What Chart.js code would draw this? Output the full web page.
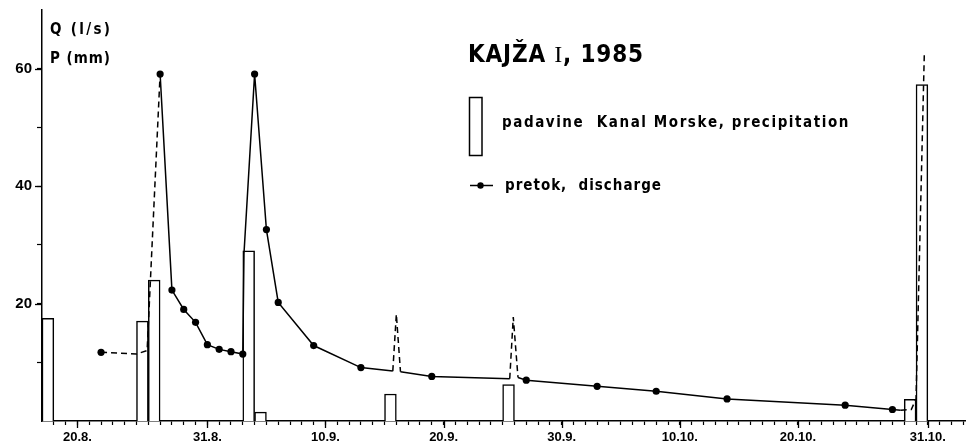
<!DOCTYPE html>
<html><head><meta charset="utf-8">
<script src="https://cdn.jsdelivr.net/npm/chart.js@4.4.0/dist/chart.umd.min.js"></script>
<style>html,body{margin:0;padding:0;background:#fff;} #wrap{width:966px;height:448px;}</style>
</head><body><div id="wrap"><canvas id="c" width="966" height="448"></canvas></div>
<script>
// x values are day numbers counted from 1 August 1985 (1.9. = 32, 1.10. = 62)
const xTickDays = [20, 31, 41, 51, 61, 71, 81, 92];
const xTickLabels = ['20.8.', '31.8.', '10.9.', '20.9.', '30.9.', '10.10.', '20.10.', '31.10.'];
const yTickLabels = [20, 40, 60];

// precipitation (mm), daily bars starting at these days
const precipDays = [17, 25, 26, 34, 35, 46, 56, 90, 91];
const precipValues = [17.5, 17, 24, 29, 1.5, 4.6, 6.2, 3.7, 57.3];

// discharge (l/s) trace vertices
const qDays = [22, 25, 25.9, 27, 28, 29, 30, 31, 32, 33, 34, 34.1, 35, 36, 37, 40, 44, 46.7, 47.0, 47.35, 50, 56.6, 56.9, 57.3, 58, 64, 69, 75, 85, 89, 89.7, 90.6, 91.0, 91.7];
const qValues = [11.7, 11.4, 12.0, 59.1, 22.3, 19.0, 16.8, 13.0, 12.2, 11.8, 11.4, 28.5, 59.1, 32.6, 20.2, 12.85, 9.1, 8.5, 18.2, 8.4, 7.6, 7.2, 17.7, 7.4, 6.95, 5.9, 5.07, 3.76, 2.7, 1.96, 1.84, 1.96, 3.8, 62.5];
const qMeasured = [1, 0, 0, 1, 1, 1, 1, 1, 1, 1, 1, 0, 1, 1, 1, 1, 1, 0, 0, 0, 1, 0, 0, 0, 1, 1, 1, 1, 1, 1, 0, 0, 0, 0];
const qDashedAfter = [1, 1, 1, 0, 0, 0, 0, 0, 0, 0, 0, 0, 0, 0, 0, 0, 0, 1, 1, 0, 0, 1, 1, 0, 0, 0, 0, 0, 0, 0, 1, 1, 1, 0];

const titleText = ['KAJŽA ', 'I', ', 1985'];
const legendPrecip = 'padavine  Kanal Morske, precipitation';
const legendQ = 'pretok,  discharge';
const unitQ = 'Q (l/s)';
const unitP = 'P (mm)';

const allDays = [];
for (let d = 18; d <= 95; d++) allDays.push(d);
const yTicks = [10, 20, 30, 40, 50, 60];

const BOLD_NARROW = '"Liberation Sans Narrow", "DejaVu Sans Condensed", "Liberation Sans", sans-serif';

function fitText(ctx, runs, x, yMid, width) {
  ctx.save();
  ctx.textBaseline = 'middle'; ctx.textAlign = 'left'; ctx.fillStyle = '#000';
  let w = 0, n = 0;
  runs.forEach(r => { ctx.font = r.font; r.w = ctx.measureText(r.t).width; w += r.w; n += [...r.t].length; });
  if (w < width) {
    const ls = (width - w) / Math.max(1, n - 1);
    let cx = x;
    runs.forEach(r => {
      ctx.font = r.font;
      for (const ch of r.t) { ctx.fillText(ch, cx, yMid); cx += ctx.measureText(ch).width + ls; }
    });
  } else {
    ctx.translate(x, yMid); ctx.scale(width / w, 1);
    let cx = 0;
    runs.forEach(r => { ctx.font = r.font; ctx.fillText(r.t, cx, 0); cx += r.w; });
  }
  ctx.restore();
}

const decor = {
  id: 'decor',
  afterDraw(chart) {
    const ctx = chart.ctx;
    const xs = chart.scales.x, ys = chart.scales.y;
    const bottom = chart.chartArea.bottom;
    ctx.save();
    ctx.strokeStyle = '#000'; ctx.lineWidth = 1.3;
    xTickDays.forEach(d => {
      const px = Math.round(xs.getPixelForValue(d)) + 0.5;
      ctx.beginPath(); ctx.moveTo(px, bottom); ctx.lineTo(px, bottom + 7); ctx.stroke();
    });
    yTickLabels.forEach(v => {
      const py = Math.round(ys.getPixelForValue(v)) + 0.5;
      ctx.beginPath(); ctx.moveTo(chart.chartArea.left - 7, py); ctx.lineTo(chart.chartArea.left, py); ctx.stroke();
    });
    ctx.restore();

    fitText(ctx, [{ t: unitQ, font: 'bold 15px ' + BOLD_NARROW }], 50, 30, 60);
    fitText(ctx, [{ t: unitP, font: 'bold 15px ' + BOLD_NARROW }], 50, 59, 60);
    fitText(ctx, [
      { t: titleText[0], font: 'bold 24px ' + BOLD_NARROW },
      { t: titleText[1], font: '24px "Liberation Serif", serif' },
      { t: titleText[2], font: 'bold 24px ' + BOLD_NARROW }
    ], 468, 56, 175);
    ctx.save();
    ctx.strokeStyle = '#000'; ctx.lineWidth = 1.5;
    ctx.strokeRect(469.5, 97.5, 12.5, 58);
    ctx.beginPath(); ctx.moveTo(470, 185.5); ctx.lineTo(493, 185.5); ctx.stroke();
    ctx.beginPath(); ctx.arc(480.5, 185.5, 3.2, 0, Math.PI * 2); ctx.fillStyle = '#000'; ctx.fill();
    ctx.restore();
    fitText(ctx, [{ t: legendPrecip, font: 'bold 15px ' + BOLD_NARROW }], 502, 123, 346);
    fitText(ctx, [{ t: legendQ, font: 'bold 15px ' + BOLD_NARROW }], 505, 186, 156);
  }
};

const qData = qDays.map((d, i) => ({ x: d, y: qValues[i] }));
const pData = precipDays.map((d, i) => ({ x: d + 0.5, y: precipValues[i] }));

new Chart(document.getElementById('c'), {
  type: 'bar',
  data: {
    datasets: [
      {
        type: 'line',
        data: qData,
        order: 0,
        borderColor: '#000',
        borderWidth: 1.5,
        tension: 0,
        pointRadius: ctx => qMeasured[ctx.dataIndex] ? 3.6 : 0,
        pointBackgroundColor: '#000',
        pointBorderColor: '#000',
        pointBorderWidth: 0,
        segment: {
          borderDash: ctx => qDashedAfter[ctx.p0DataIndex] ? [6, 4] : undefined
        }
      },
      {
        type: 'bar',
        data: pData,
        order: 1,
        backgroundColor: '#fff',
        borderColor: '#000',
        borderWidth: 1.5,
        barPercentage: 1,
        categoryPercentage: 1
      }
    ]
  },
  options: {
    responsive: false,
    devicePixelRatio: 1,
    animation: false,
    layout: { autoPadding: false, padding: { left: 0, top: 10, right: 0, bottom: 0 } },
    plugins: { legend: { display: false }, tooltip: { enabled: false }, title: { display: false } },
    scales: {
      x: {
        type: 'linear',
        offset: false,
        min: 17,
        max: 95.23,
        afterBuildTicks: s => { s.ticks = allDays.map(v => ({ value: v })); },
        afterFit: s => { s.height = 27; s.paddingLeft = 0; s.paddingRight = 0; },
        border: { display: true, color: '#000', width: 1.5 },
        grid: { display: true, offset: false, drawOnChartArea: false, drawTicks: true, tickLength: 4, tickColor: '#000', tickWidth: 1.2 },
        ticks: {
          autoSkip: false, maxRotation: 0, minRotation: 0, padding: 5,
          color: '#000',
          font: { family: '"Liberation Sans", Arial, sans-serif', size: 13, weight: 'bold' },
          callback: v => { const i = xTickDays.indexOf(v); return i >= 0 ? xTickLabels[i] : ''; }
        }
      },
      y: {
        min: 0,
        max: 70,
        afterBuildTicks: s => { s.ticks = yTicks.map(v => ({ value: v })); },
        afterFit: s => { s.width = 42; s.paddingTop = 0; s.paddingBottom = 0; },
        border: { display: true, color: '#000', width: 1.5 },
        grid: { display: true, drawOnChartArea: false, drawTicks: true, tickLength: 5, tickColor: '#000', tickWidth: 1.2 },
        ticks: {
          autoSkip: false, padding: 5, color: '#000',
          font: { family: '"Liberation Sans", Arial, sans-serif', size: 15, weight: 'bold' },
          callback: v => yTickLabels.includes(v) ? String(v) : ''
        }
      }
    }
  },
  plugins: [decor]
});
</script>
</body></html>
